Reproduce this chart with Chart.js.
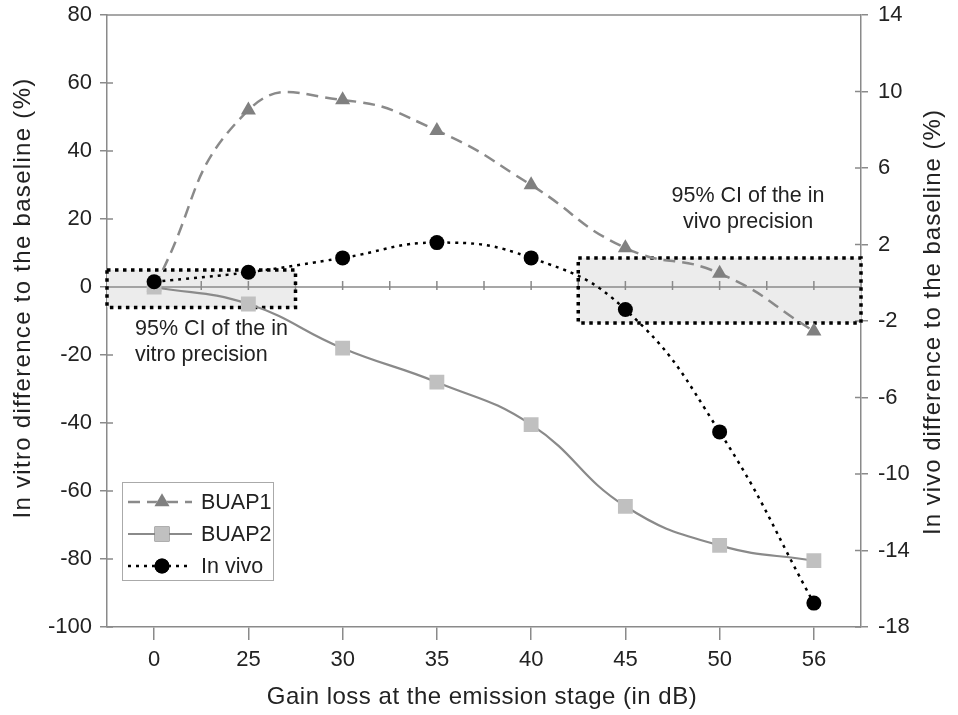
<!DOCTYPE html>
<html>
<head>
<meta charset="utf-8">
<script src="https://cdn.jsdelivr.net/npm/chart.js@4/dist/chart.umd.min.js"></script>
<style>html,body{margin:0;padding:0;background:#fff}</style>
</head>
<body>
<canvas id="myChart" width="958" height="715"></canvas>
<script>
var gainLoss = ["0", "25", "30", "35", "40", "45", "50", "56"];
var buap1 = [0, 52, 55, 46, 30, 11.5, 4, -13];
var buap2 = [0, -5, -18, -28, -40.5, -64.5, -76, -80.5];
var inVivo = [0.05, 0.55, 1.3, 2.1, 1.3, -1.4, -7.8, -16.75];
// CI boxes: [from index, to index, low, high]
var ciVitro = [-0.5, 1.5, -6, 5];    // left axis (in vitro)
var ciVivo = [4.5, 7.5, -2.1, 1.3];  // right axis (in vivo)
var ciVitroText = ["95% CI of the in", "vitro precision"];
var ciVivoText = ["95% CI of the in", "vivo precision"];
var xTitle = "Gain loss at the emission stage (in dB)";
var yTitle = "In vitro difference to the baseline (%)";
var y1Title = "In vivo difference to the baseline (%)";

var FONT = "'Liberation Sans', Arial, sans-serif";
var GRAY = "#8a8a8a";
var TXT = "#222";

function boxRect(x, y, box) {
    var x0 = x.getPixelForValue(box[0]), x1 = x.getPixelForValue(box[1]);
    var y0 = y.getPixelForValue(box[3]), y1 = y.getPixelForValue(box[2]);
    return [x0, y0, x1 - x0, y1 - y0];
}

function vText(ctx, text, cx, cy, spacing) {
    ctx.save();
    ctx.translate(cx, cy);
    ctx.rotate(-Math.PI / 2);
    ctx.letterSpacing = spacing + "px";
    ctx.fillText(text, 0, 0);
    ctx.restore();
}

var extras = {
    id: "extras",
    beforeDatasetsDraw: function(chart) {
        var ctx = chart.ctx, a = chart.chartArea;
        var x = chart.scales.x, yl = chart.scales.y, yr = chart.scales.y1;
        var r1 = boxRect(x, yl, ciVitro), r2 = boxRect(x, yr, ciVivo);
        ctx.save();
        ctx.fillStyle = "#ececec";
        ctx.fillRect(r1[0], r1[1], r1[2], r1[3]);
        ctx.fillRect(r2[0], r2[1], r2[2], r2[3]);
        // zero line with ticks
        var y0 = yl.getPixelForValue(0);
        ctx.strokeStyle = GRAY;
        ctx.lineWidth = 1.5;
        ctx.beginPath();
        ctx.moveTo(a.left, y0); ctx.lineTo(a.right, y0);
        for (var i = 0; i < gainLoss.length * 2; i++) {
            var px = x.getPixelForValue(i / 2);
            ctx.moveTo(px, y0 - 6); ctx.lineTo(px, y0 + 3);
        }
        // top border
        ctx.moveTo(a.left, a.top); ctx.lineTo(a.right, a.top);
        // inner halves of y ticks
        yl.ticks.forEach(function(t) {
            var py = yl.getPixelForValue(t.value);
            ctx.moveTo(a.left, py); ctx.lineTo(a.left + 6, py);
        });
        yr.ticks.forEach(function(t) {
            var py = yr.getPixelForValue(t.value);
            ctx.moveTo(a.right - 6, py); ctx.lineTo(a.right, py);
        });
        ctx.stroke();
        // dotted borders of the CI boxes
        ctx.strokeStyle = "#000";
        ctx.lineWidth = 3.5;
        ctx.setLineDash([3.5, 4.5]);
        ctx.strokeRect(r1[0], r1[1], r1[2], r1[3]);
        ctx.strokeRect(r2[0], r2[1], r2[2], r2[3]);
        ctx.restore();
    },
    afterDraw: function(chart) {
        var ctx = chart.ctx;
        ctx.save();
        ctx.fillStyle = TXT;
        ctx.textBaseline = "middle";

        // axis titles
        ctx.font = "24px " + FONT;
        ctx.textAlign = "center";
        ctx.save();
        ctx.letterSpacing = "0.5px";
        ctx.fillText(xTitle, 482, 697);
        ctx.restore();
        vText(ctx, yTitle, 23, 298, 1.3);
        vText(ctx, y1Title, 933, 322, 1.0);

        // CI labels
        ctx.font = "21.5px " + FONT;
        ctx.textAlign = "left";
        ctx.fillText(ciVitroText[0], 135, 329);
        ctx.fillText(ciVitroText[1], 135, 355);
        ctx.textAlign = "center";
        ctx.fillText(ciVivoText[0], 748, 196);
        ctx.fillText(ciVivoText[1], 748, 222);

        // legend
        var lx = 122, ly = 482, lw = 151, lh = 98;
        ctx.fillStyle = "#fff";
        ctx.fillRect(lx, ly, lw, lh);
        ctx.strokeStyle = "#aaa";
        ctx.lineWidth = 1;
        ctx.strokeRect(lx + 0.5, ly + 0.5, lw, lh);
        var rows = [502, 534, 566];
        chart.data.datasets.forEach(function(ds, i) {
            var ry = rows[i];
            ctx.save();
            ctx.strokeStyle = ds.borderColor;
            ctx.lineWidth = ds.borderWidth;
            ctx.setLineDash(ds.borderDash || []);
            ctx.beginPath();
            ctx.moveTo(128, ry); ctx.lineTo(192, ry);
            ctx.stroke();
            ctx.restore();
            Chart.helpers.drawPoint(ctx, {
                pointStyle: ds.pointStyle, radius: ds.pointRadius, borderWidth: 0, rotation: 0
            }, 162, ry);
            ctx.fillStyle = ds.pointBackgroundColor;
            ctx.fill();
            ctx.fillStyle = TXT;
            ctx.font = "21.5px " + FONT;
            ctx.textAlign = "left";
            ctx.fillText(ds.label, 201, ry + 1);
        });
        ctx.restore();
    }
};

function fitY(w) {
    return function(s) {
        s.width = w;
        s.paddingTop = 0;
        s.paddingBottom = 0;
    };
}

var ctx = document.getElementById("myChart").getContext("2d");
var chart = new Chart(ctx, {
    type: "line",
    data: {
        labels: gainLoss,
        datasets: [{
            label: "BUAP1",
            data: buap1,
            yAxisID: "y",
            borderColor: "#8a8a8a",
            borderWidth: 2.5,
            borderDash: [12, 7],
            pointStyle: "triangle",
            pointRadius: 8.7,
            pointBackgroundColor: "#808080",
            pointBorderWidth: 0,
            tension: 0.5,
            order: 3
        }, {
            label: "BUAP2",
            data: buap2,
            yAxisID: "y",
            borderColor: "#8a8a8a",
            borderWidth: 2.2,
            pointStyle: "rect",
            pointRadius: 10.5,
            pointBackgroundColor: "#c0c0c0",
            pointBorderWidth: 0,
            tension: 0.45,
            order: 2
        }, {
            label: "In vivo",
            data: inVivo,
            yAxisID: "y1",
            borderColor: "#000",
            borderWidth: 2.5,
            borderDash: [3, 5],
            pointStyle: "circle",
            pointRadius: 7.5,
            pointBackgroundColor: "#000",
            pointBorderWidth: 0,
            tension: 0.45,
            order: 1
        }]
    },
    options: {
        responsive: false,
        animation: false,
        devicePixelRatio: 1,
        layout: { padding: { top: 15, left: 0, right: 0, bottom: 0 } },
        plugins: { legend: { display: false }, tooltip: { enabled: false } },
        scales: {
            x: {
                type: "category",
                offset: true,
                grid: { offset: false, drawOnChartArea: false, color: GRAY, tickLength: 13, lineWidth: 1.5 },
                border: { color: GRAY, width: 1.5 },
                ticks: { color: TXT, font: { size: 22, family: FONT }, padding: 7, maxRotation: 0 },
                afterFit: function(s) { s.height = 88; s.paddingLeft = 0; s.paddingRight = 0; }
            },
            y: {
                position: "left",
                min: -100, max: 80,
                ticks: { stepSize: 20, color: TXT, font: { size: 22, family: FONT }, padding: 8 },
                grid: { drawOnChartArea: false, color: GRAY, tickLength: 7, lineWidth: 1.5 },
                border: { color: GRAY, width: 1.5 },
                afterFit: fitY(107)
            },
            y1: {
                position: "right",
                min: -18, max: 14,
                ticks: { stepSize: 4, color: TXT, font: { size: 22, family: FONT }, padding: 10 },
                grid: { drawOnChartArea: false, color: GRAY, tickLength: 7, lineWidth: 1.5 },
                border: { color: GRAY, width: 1.5 },
                afterFit: fitY(97)
            }
        }
    },
    plugins: [extras]
});
</script>
</body>
</html>
